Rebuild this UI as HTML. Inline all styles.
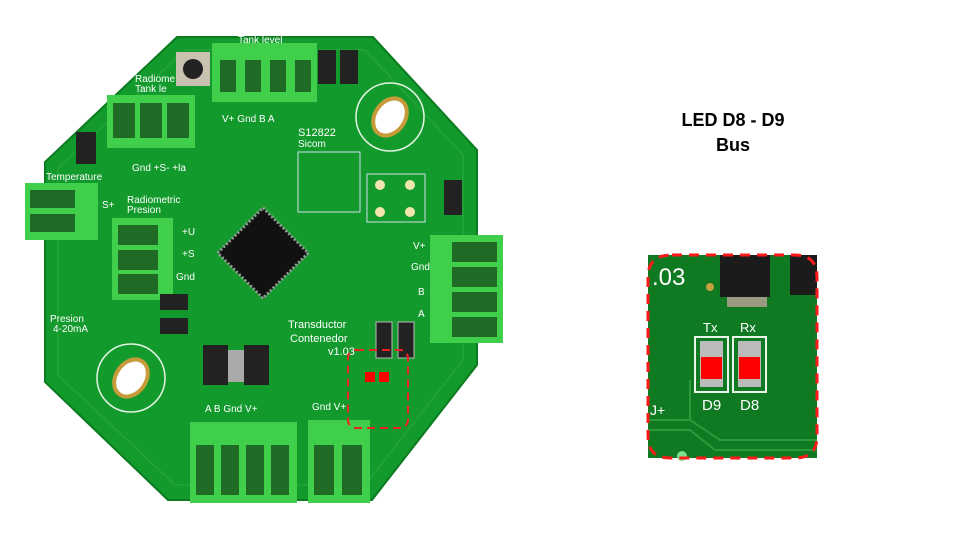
<!DOCTYPE html>
<html><head><meta charset="utf-8"><style>
html,body{margin:0;padding:0;background:#fff;}
body{width:960px;height:540px;overflow:hidden;position:relative;font-family:"Liberation Sans",sans-serif;}
.t{position:absolute;left:633px;width:200px;text-align:center;font-weight:bold;font-size:18px;color:#000;}
</style></head><body>
<svg width="960" height="540" style="position:absolute;left:0;top:0" font-family="Liberation Sans, sans-serif">
<!-- board -->
<polygon points="177,37 373,37 477,150 477,365 372,500 168,500 45,382 45,162" fill="#139a2c" stroke="#0b7a20" stroke-width="2"/>
<polygon points="185,50 365,50 463,155 463,360 365,485 175,485 58,375 58,168" fill="none" stroke="#2aa83e" stroke-width="1"/>
<!-- holes -->
<circle cx="390" cy="117" r="34" fill="none" stroke="#e6f5e6" stroke-width="1.5"/>
<ellipse cx="390" cy="117" rx="15" ry="20" transform="rotate(35 390 117)" fill="#fff" stroke="#c89b3a" stroke-width="4"/>
<circle cx="131" cy="378" r="34" fill="none" stroke="#e6f5e6" stroke-width="1.5"/>
<ellipse cx="131" cy="378" rx="15" ry="20" transform="rotate(35 131 378)" fill="#fff" stroke="#c89b3a" stroke-width="4"/>
<!-- connectors -->
<rect x="212" y="43" width="105" height="59" fill="#3fcf4a"/>
<g fill="#1f6a25"><rect x="220" y="60" width="16" height="32"/><rect x="245" y="60" width="16" height="32"/><rect x="270" y="60" width="16" height="32"/><rect x="295" y="60" width="16" height="32"/></g>
<rect x="107" y="95" width="88" height="53" fill="#3fcf4a"/>
<g fill="#1f6a25"><rect x="113" y="103" width="22" height="35"/><rect x="140" y="103" width="22" height="35"/><rect x="167" y="103" width="22" height="35"/></g>
<rect x="25" y="183" width="73" height="57" fill="#3fcf4a"/>
<g fill="#1f6a25"><rect x="30" y="190" width="45" height="18"/><rect x="30" y="214" width="45" height="18"/></g>
<rect x="112" y="218" width="61" height="82" fill="#3fcf4a"/>
<g fill="#1f6a25"><rect x="118" y="225" width="40" height="20"/><rect x="118" y="250" width="40" height="20"/><rect x="118" y="274" width="40" height="20"/></g>
<rect x="430" y="235" width="73" height="108" fill="#3fcf4a"/>
<g fill="#1f6a25"><rect x="452" y="242" width="45" height="20"/><rect x="452" y="267" width="45" height="20"/><rect x="452" y="292" width="45" height="20"/><rect x="452" y="317" width="45" height="20"/></g>
<rect x="190" y="422" width="107" height="81" fill="#3fcf4a"/>
<g fill="#1f6a25"><rect x="196" y="445" width="18" height="50"/><rect x="221" y="445" width="18" height="50"/><rect x="246" y="445" width="18" height="50"/><rect x="271" y="445" width="18" height="50"/></g>
<rect x="308" y="420" width="62" height="83" fill="#3fcf4a"/>
<g fill="#1f6a25"><rect x="314" y="445" width="20" height="50"/><rect x="342" y="445" width="20" height="50"/></g>
<!-- button -->
<rect x="176" y="52" width="34" height="34" fill="#c9c2b0"/><circle cx="193" cy="69" r="10" fill="#222"/>
<!-- diodes -->
<rect x="318" y="50" width="18" height="34" fill="#222"/><rect x="340" y="50" width="18" height="34" fill="#222"/>
<rect x="376" y="322" width="16" height="36" fill="#222" stroke="#bbb"/><rect x="398" y="322" width="16" height="36" fill="#222" stroke="#bbb"/>
<rect x="160" y="294" width="28" height="16" fill="#222"/><rect x="160" y="318" width="28" height="16" fill="#222"/>
<rect x="76" y="132" width="20" height="32" fill="#222"/>
<rect x="203" y="345" width="25" height="40" fill="#222"/><rect x="244" y="345" width="25" height="40" fill="#222"/>
<rect x="228" y="350" width="16" height="32" fill="#aaa"/>
<!-- chip -->
<rect x="231" y="221" width="64" height="64" transform="rotate(45 263 253)" fill="#111" stroke="#999" stroke-dasharray="2 2" stroke-width="3"/>
<!-- QR area -->
<rect x="298" y="152" width="62" height="60" fill="none" stroke="#cde" stroke-width="1"/>
<rect x="367" y="174" width="58" height="48" fill="none" stroke="#cde" stroke-width="1"/>
<circle cx="380" cy="185" r="5" fill="#f2e6b0"/><circle cx="410" cy="185" r="5" fill="#f2e6b0"/><circle cx="380" cy="212" r="5" fill="#f2e6b0"/><circle cx="410" cy="212" r="5" fill="#f2e6b0"/>
<rect x="444" y="180" width="18" height="35" fill="#222"/>
<!-- labels -->
<g fill="#fff" font-size="10">
<text x="238" y="43">Tank level</text>
<text x="135" y="82">Radiome</text><text x="135" y="92">Tank le</text>
<text x="222" y="122">V+  Gnd  B   A</text>
<text x="132" y="171">Gnd +S- +la</text>
<text x="46" y="180">Temperature</text>
<text x="127" y="203">Radiometric</text><text x="127" y="213">Presion</text>
<text x="182" y="235">+U</text><text x="182" y="257">+S</text><text x="176" y="280">Gnd</text>
<text x="102" y="208">S+</text>
<text x="50" y="322">Presion</text><text x="53" y="332">4-20mA</text>
<text x="288" y="328" font-size="11">Transductor</text><text x="290" y="342" font-size="11">Contenedor</text><text x="328" y="355" font-size="11">v1.03</text>
<text x="298" y="136" font-size="11">S12822</text><text x="298" y="147" font-size="10">Sicom</text>
<text x="205" y="412">A   B  Gnd  V+</text><text x="312" y="410">Gnd V+</text>
<text x="413" y="249">V+</text><text x="411" y="270">Gnd</text><text x="418" y="295">B</text><text x="418" y="317">A</text>
</g>
<!-- small tx rx leds -->
<rect x="365" y="372" width="10" height="10" fill="#ff0000"/><rect x="379" y="372" width="10" height="10" fill="#ff0000"/>
<rect x="348" y="350" width="60" height="78" rx="8" fill="none" stroke="#e22" stroke-width="2" stroke-dasharray="8 5"/>

<!-- inset -->
<rect x="648" y="255" width="169" height="203" fill="#0f7a22"/>
<rect x="720" y="255" width="50" height="42" fill="#1b1b1b"/><rect x="790" y="255" width="27" height="40" fill="#1b1b1b"/>
<rect x="727" y="297" width="40" height="10" fill="#9a9a80"/>
<text x="652" y="285" fill="#fff" font-size="24">.03</text>
<circle cx="710" cy="287" r="4" fill="#c8a040"/>
<polyline points="648,420 690,420 720,440 817,440" fill="none" stroke="#2a9a3a" stroke-width="2"/>
<polyline points="648,430 690,430 715,450 817,450" fill="none" stroke="#2a9a3a" stroke-width="2"/>
<line x1="690" y1="380" x2="690" y2="420" stroke="#2a9a3a" stroke-width="2"/>
<rect x="695" y="337" width="33" height="55" fill="#0f7a22" stroke="#e8f5e8" stroke-width="2"/>
<rect x="733" y="337" width="33" height="55" fill="#0f7a22" stroke="#e8f5e8" stroke-width="2"/>
<rect x="700" y="341" width="23" height="46" fill="#bbb"/><rect x="738" y="341" width="23" height="46" fill="#bbb"/>
<rect x="701" y="357" width="21" height="22" fill="#ff0000"/><rect x="739" y="357" width="21" height="22" fill="#ff0000"/>
<text x="703" y="332" fill="#fff" font-size="13">Tx</text><text x="740" y="332" fill="#fff" font-size="13">Rx</text>
<text x="702" y="410" fill="#fff" font-size="15">D9</text><text x="740" y="410" fill="#fff" font-size="15">D8</text>
<text x="650" y="415" fill="#fff" font-size="14">J+</text>
<circle cx="682" cy="456" r="5" fill="#7ee08a"/>
<path d="M672,255 H795 Q817,255 817,277 V436 Q817,458 795,458 H670 Q648,458 648,436 V277 Q648,255 672,255 Z" fill="none" stroke="#ff1a1a" stroke-width="3" stroke-dasharray="10 7"/>
</svg>
<div class="t" style="top:110px">LED D8 - D9</div>
<div class="t" style="top:135px">Bus</div>
</body></html>
